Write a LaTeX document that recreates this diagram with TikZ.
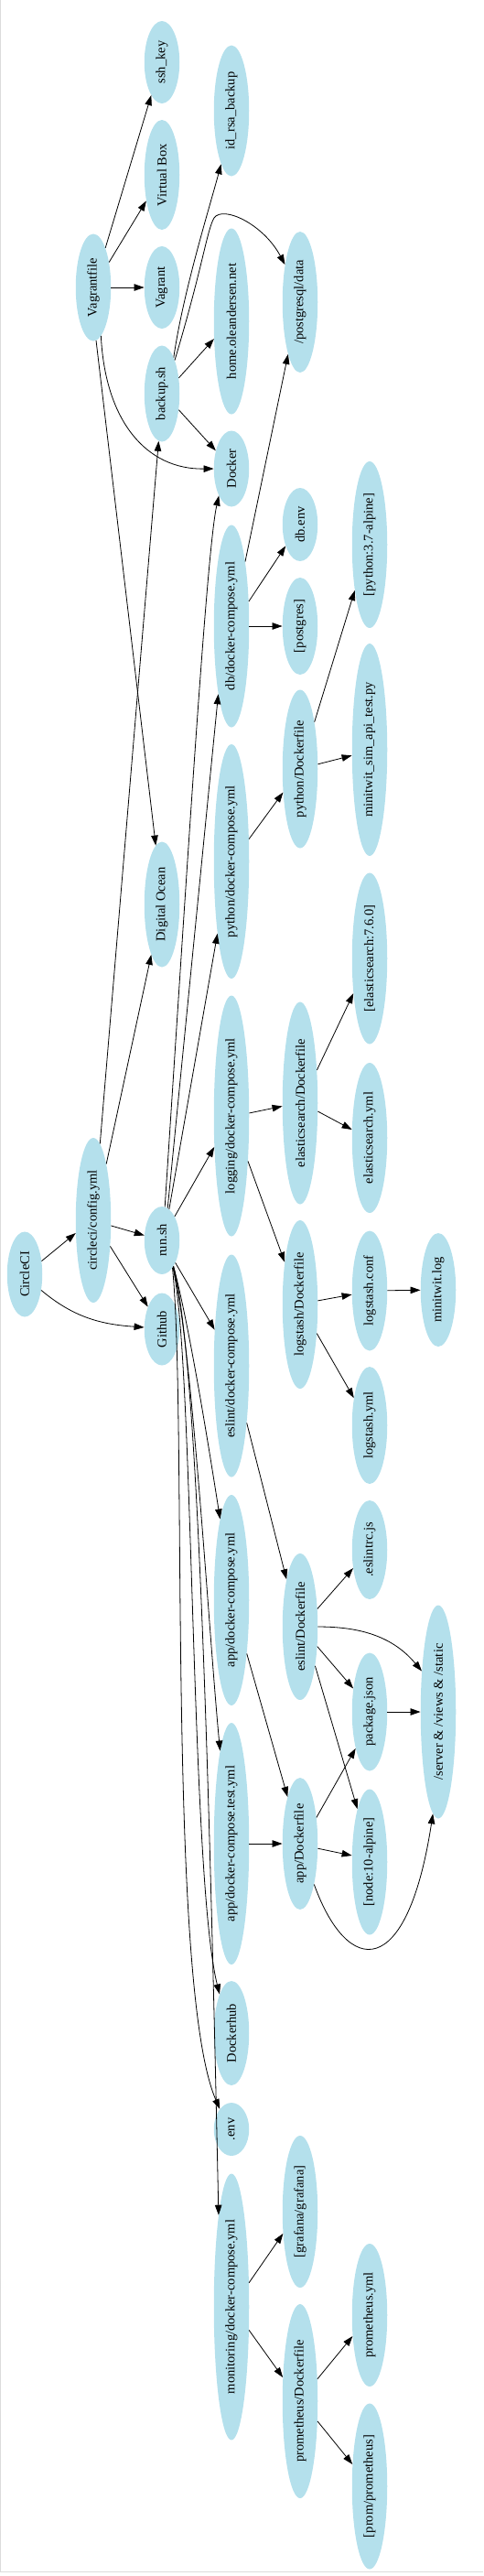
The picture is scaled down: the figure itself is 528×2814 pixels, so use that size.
\documentclass[tikz,border=0pt]{standalone}
\usepackage{fontspec}
\setmainfont{Liberation Serif}
\usetikzlibrary{shapes.geometric,arrows.meta}
\definecolor{nodeblue}{RGB}{180,224,236}
\definecolor{framegrey}{RGB}{220,220,220}
\newcommand{\rottxt}[1]{\rotatebox{90}{\makebox[0pt]{#1}}}
\begin{document}
\begin{tikzpicture}[x=1pt,y=-1pt,
  nd/.style={ellipse, fill=nodeblue, draw=none, inner sep=0pt, minimum width=38.5pt,
    font=\fontsize{14.5}{17}\selectfont},
  ed/.style={-{Triangle[length=11pt,width=7.5pt]}, line width=0.8pt, black}]
\useasboundingbox (0,0) rectangle (528,2814);
\draw[framegrey, line width=1pt] (0.5,0) -- (0.5,2809.5) -- (528,2809.5);
% column 0
\node[nd, minimum height=93pt] (ci) at (27,1392) {\rottxt{CircleCI}};
% column 1
\node[nd, minimum height=117pt] (vf) at (102,314) {\rottxt{Vagrantfile}};
\node[nd, minimum height=180pt] (cfg) at (102,1333) {\rottxt{circleci/config.yml}};
% column 2
\node[nd, minimum height=90pt] (ssh) at (177,68) {\rottxt{ssh\_key}};
\node[nd, minimum height=120pt] (vbox) at (177,191) {\rottxt{Virtual Box}};
\node[nd, minimum height=90pt] (vag) at (177,314) {\rottxt{Vagrant}};
\node[nd, minimum height=105pt] (bak) at (177,430) {\rottxt{backup.sh}};
\node[nd, minimum height=137pt] (do) at (177,988) {\rottxt{Digital Ocean}};
\node[nd, minimum height=74pt] (run) at (177,1355) {\rottxt{run.sh}};
\node[nd, minimum height=79pt] (gh) at (177,1452) {\rottxt{Github}};
% column 3
\node[nd, minimum height=143pt] (idrsa) at (253,121) {\rottxt{id\_rsa\_backup}};
\node[nd, minimum height=203pt] (home) at (253,351) {\rottxt{home.oleandersen.net}};
\node[nd, minimum height=83pt] (docker) at (253,512) {\rottxt{Docker}};
\node[nd, minimum height=221pt] (dbc) at (253,684) {\rottxt{db/docker-compose.yml}};
\node[nd, minimum height=256pt] (pyc) at (253,941) {\rottxt{python/docker-compose.yml}};
\node[nd, minimum height=263pt] (logc) at (253,1219) {\rottxt{logging/docker-compose.yml}};
\node[nd, minimum height=243pt] (eslc) at (253,1492) {\rottxt{eslint/docker-compose.yml}};
\node[nd, minimum height=230pt] (appc) at (253,1748) {\rottxt{app/docker-compose.yml}};
\node[nd, minimum height=264pt] (appt) at (253,2014) {\rottxt{app/docker-compose.test.yml}};
\node[nd, minimum height=114pt] (dhub) at (253,2221) {\rottxt{Dockerhub}};
\node[nd, minimum height=58pt] (env) at (253,2326) {\rottxt{.env}};
\node[nd, minimum height=291pt] (mon) at (253,2520) {\rottxt{monitoring/docker-compose.yml}};
% column 4
\node[nd, minimum height=154pt] (pg) at (328,330) {\rottxt{/postgresql/data}};
\node[nd, minimum height=80pt] (dbenv) at (328,573) {\rottxt{db.env}};
\node[nd, minimum height=106pt] (postgres) at (328,684) {\rottxt{[postgres]}};
\node[nd, minimum height=173pt] (pydf) at (328,840) {\rottxt{python/Dockerfile}};
\node[nd, minimum height=221pt] (esdf) at (328,1205) {\rottxt{elasticsearch/Dockerfile}};
\node[nd, minimum height=184pt] (lsdf) at (328,1425) {\rottxt{logstash/Dockerfile}};
\node[nd, minimum height=160pt] (esldf) at (328,1777) {\rottxt{eslint/Dockerfile}};
\node[nd, minimum height=144pt] (appdf) at (328,2014) {\rottxt{app/Dockerfile}};
\node[nd, minimum height=166pt] (graf) at (328,2416) {\rottxt{[grafana/grafana]}};
\node[nd, minimum height=212pt] (promdf) at (328,2623) {\rottxt{prometheus/Dockerfile}};
% column 5
\node[nd, minimum height=182pt] (pyalp) at (404,595) {\rottxt{[python:3.7-alpine]}};
\node[nd, minimum height=232pt] (sim) at (404,819) {\rottxt{minitwit\_sim\_api\_test.py}};
\node[nd, minimum height=187pt] (es760) at (404,1047) {\rottxt{[elasticsearch:7.6.0]}};
\node[nd, minimum height=164pt] (esyml) at (404,1243) {\rottxt{elasticsearch.yml}};
\node[nd, minimum height=131pt] (lsconf) at (404,1410) {\rottxt{logstash.conf}};
\node[nd, minimum height=128pt] (lsyml) at (404,1557) {\rottxt{logstash.yml}};
\node[nd, minimum height=108pt] (eslrc) at (404,1693) {\rottxt{.eslintrc.js}};
\node[nd, minimum height=129pt] (pkg) at (404,1870) {\rottxt{package.json}};
\node[nd, minimum height=159pt] (nodealp) at (404,2034) {\rottxt{[node:10-alpine]}};
\node[nd, minimum height=156pt] (promyml) at (404,2529) {\rottxt{prometheus.yml}};
\node[nd, minimum height=181pt] (promprom) at (404,2716) {\rottxt{[prom/prometheus]}};
% column 6
\node[nd, minimum height=124pt] (mlog) at (479,1409) {\rottxt{minitwit.log}};
\node[nd, minimum height=233pt] (server) at (479,1870) {\rottxt{/server \& /views \& /static}};
% edges
\draw[ed] (vf.73) -- (ssh.252);
\draw[ed] (vf.58) -- (vbox.239);
\draw[ed] (vf) -- (vag);
\draw[ed] (vf.-81) .. controls (115,460) and (160,513) .. (docker.180);
\draw[ed] (vf.-87) -- (do.96);
\draw[ed] (bak.72) .. controls (200,320) and (228,230) .. (idrsa.-101);
\draw[ed] (bak.69) .. controls (222,290) and (226,252) .. (234,238) .. controls (244,224) and (288,245) .. (pg.112);
\draw[ed] (bak.43) -- (home.-135);
\draw[ed] (bak.-44) -- (docker.131);
\draw[ed] (cfg.85) -- (bak.-94);
\draw[ed] (cfg.77) -- (do.-102);
\draw[ed] (cfg.-17) -- (run.164);
\draw[ed] (cfg.-57) -- (gh.122);
\draw[ed] (ci.38) -- (cfg.-144);
\draw[ed] (ci.-44) to[out=-40, in=176] (gh.174);
\draw[ed] (dbc.78) -- (pg.-103);
\draw[ed] (dbc.55) -- (dbenv.-124);
\draw[ed] (dbc) -- (postgres);
\draw[ed] (pyc.52) -- (pydf.-126);
\draw[ed] (pydf.73) -- (pyalp.-108);
\draw[ed] (pydf.15) -- (sim.-162);
\draw[ed] (logc.9) -- (esdf.-170);
\draw[ed] (logc.-70) -- (lsdf.110);
\draw[ed] (esdf.63) -- (es760.-115);
\draw[ed] (esdf.-25) -- (esyml.155);
\draw[ed] (lsdf.12) -- (lsconf.-168);
\draw[ed] (lsconf) -- (mlog);
\draw[ed] (lsdf.-60) -- (lsyml.120);
\draw[ed] (eslc.-75) -- (esldf.106);
\draw[ed] (esldf.46) -- (eslrc.-132);
\draw[ed] (esldf.0) to[out=0, in=130] (server.112);
\draw[ed] (esldf.-49) -- (pkg.125);
\draw[ed] (esldf.-69) -- (nodealp.103);
\draw[ed] (appc.-74) -- (appdf.105);
\draw[ed] (appt) -- (appdf);
\draw[ed] (appdf.58) -- (pkg.-111);
\draw[ed] (appdf.-15) -- (nodealp.160);
\draw[ed] (appdf.-71) .. controls (380,2160) and (445,2165) .. (server.-93);
\draw[ed] (pkg) -- (server);
\draw[ed] (mon.54) -- (graf.-128);
\draw[ed] (mon.-53) -- (promdf.126);
\draw[ed] (promdf.52) -- (promyml.-129);
\draw[ed] (promdf.-49) -- (promprom.128);
\draw[ed] (run.77) -- (pyc.-101);
\draw[ed] (run.80) -- (dbc.-101);
\draw[ed] (run.85) .. controls (205,940) and (226,600) .. (docker.-115);
\draw[ed] (run.62) -- (logc.-119);
\draw[ed] (run.-59) -- (eslc.115);
\draw[ed] (run.-66) .. controls (205,1440) and (225,1560) .. (appc.98);
\draw[ed] (run.-67) .. controls (210,1470) and (228,1780) .. (appt.97);
\draw[ed] (run.-68) .. controls (212,1480) and (208,2050) .. (dhub.107);
\draw[ed] (run.-69) .. controls (205,1550) and (182,2170) .. (env.120);
\draw[ed] (run.-66) .. controls (215,1480) and (228,1900) .. (mon.98);
\end{tikzpicture}
\end{document}
